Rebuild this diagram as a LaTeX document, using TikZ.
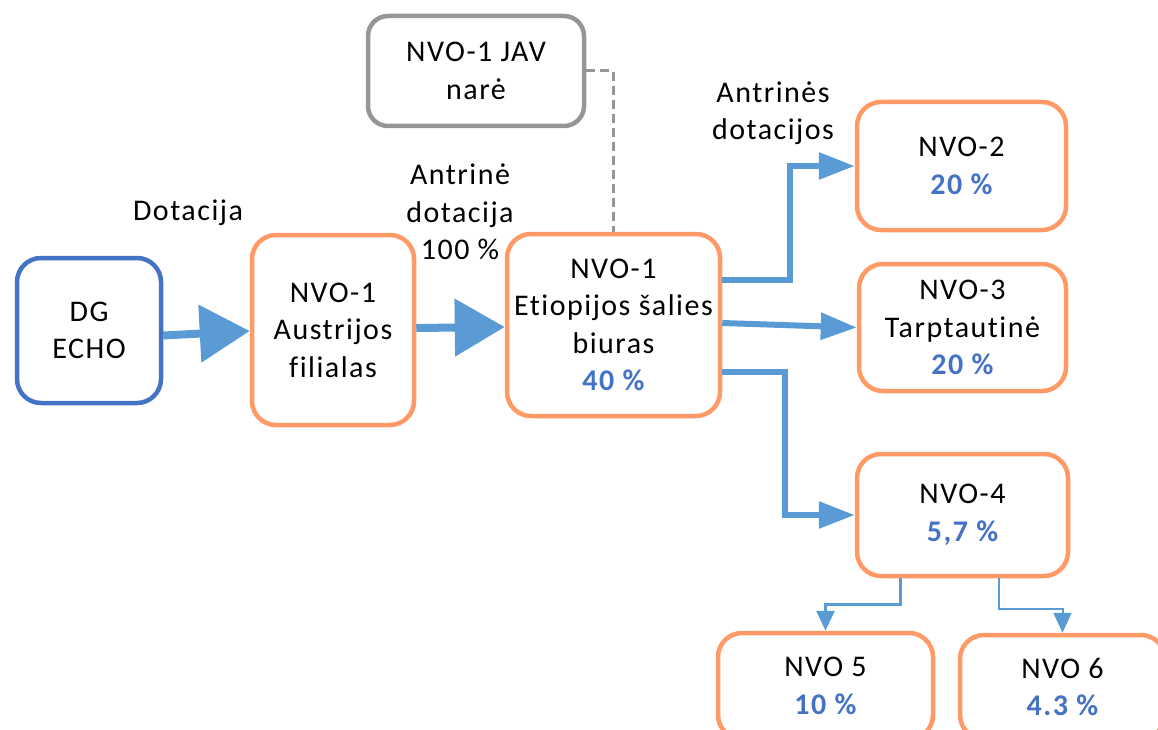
\documentclass[tikz,border=0pt]{standalone}
\usepackage{fontspec}
\setmainfont{Carlito}[Ligatures=NoCommon,LetterSpace=5]
\usepackage{tikz}
\usetikzlibrary{arrows.meta,positioning,calc}
\definecolor{boxorange}{RGB}{255,153,102}
\definecolor{boxblue}{RGB}{68,114,196}
\definecolor{arrowblue}{RGB}{91,155,213}
\definecolor{boxgray}{RGB}{150,150,150}
\tikzstyle{nvo}=[draw=boxorange,line width=4.5pt,rounded corners=24pt,align=center,inner sep=0pt]
\tikzstyle{flow}=[draw=arrowblue,line width=6pt,-{Triangle[length=36pt,width=26pt]}]
\tikzstyle{bigflow}=[draw=arrowblue,line width=8pt,-{Triangle[length=50pt,width=56pt]}]
\tikzstyle{subflow}=[draw=arrowblue,line width=2.5pt,-{Triangle[length=20pt,width=18pt]}]
\newcommand{\pct}[1]{{\color{boxblue}\bfseries #1}}

\begin{document}
\begin{tikzpicture}[x=1pt,y=-1pt,font=\fontsize{30}{37.5}\selectfont]
\useasboundingbox (0,0) rectangle (1158,730);
% boxes
\node [nvo,draw=boxblue,minimum width=144pt,minimum height=145pt] (dg) at (89,330.5) {DG\\ECHO};
\node [nvo,minimum width=162pt,minimum height=190pt] (aus) at (333,330) {NVO-1\\Austrijos\\filialas};
\node [nvo,minimum width=213pt,minimum height=182pt] (eti) at (613.5,325) {NVO-1\\Etiopijos šalies\\biuras\\\pct{40 \%}};
\node [nvo,draw=boxgray,rounded corners=20pt,minimum width=216pt,minimum height=110pt] (jav) at (476,71) {NVO-1 JAV\\narė};
\node [nvo,minimum width=209pt,minimum height=128pt] (nvo2) at (961.5,166) {NVO-2\\\pct{20 \%}};
\node [nvo,minimum width=207pt,minimum height=127pt] (nvo3) at (962.5,327.5) {NVO-3\\Tarptautinė\\\pct{20 \%}};
\node [nvo,minimum width=211pt,minimum height=122pt] (nvo4) at (962.5,515) {NVO-4\\\pct{5,7 \%}};
\node [nvo,minimum width=215pt,minimum height=106pt] (nvo5) at (825.5,686) {NVO 5\\\pct{10 \%}};
\node [nvo,minimum width=205pt,minimum height=104pt] (nvo6) at (1062.5,687) {NVO 6\\\pct{4.3 \%}};

% labels
\node (lbldot) at (188,213) {Dotacija};
\node [align=center] (lblsec) at (460,212) {Antrinė\\dotacija\\100 \%};
\node [align=center] (lblsecs) at (773,113) {Antrinės\\dotacijos};

% connectors
\draw [bigflow] ([yshift=-5pt]dg.east) -- ([yshift=-1pt]aus.west);
\draw [bigflow] ([yshift=2pt]aus.east) -- ([yshift=-2pt]eti.west);
\draw [flow] ([yshift=45pt]eti.east) -- ++(68,0) |- (nvo2.west);
\draw [flow] ([yshift=2pt]eti.east) -- (nvo3.west);
\draw [flow] ([yshift=-47pt]eti.east) -- ++(63,0) |- (nvo4.west);
\draw [subflow,line width=3pt] ([xshift=-62pt]nvo4.south) -- ++(0,26) -| (nvo5.north);
\draw [subflow,line width=2pt] ([xshift=36pt]nvo4.south) -- ++(0,31) -| (nvo6.north);
\draw [boxgray,line width=3pt,dash pattern=on 9pt off 5pt] (jav.east) -| (eti.north);
\end{tikzpicture}
\end{document}
